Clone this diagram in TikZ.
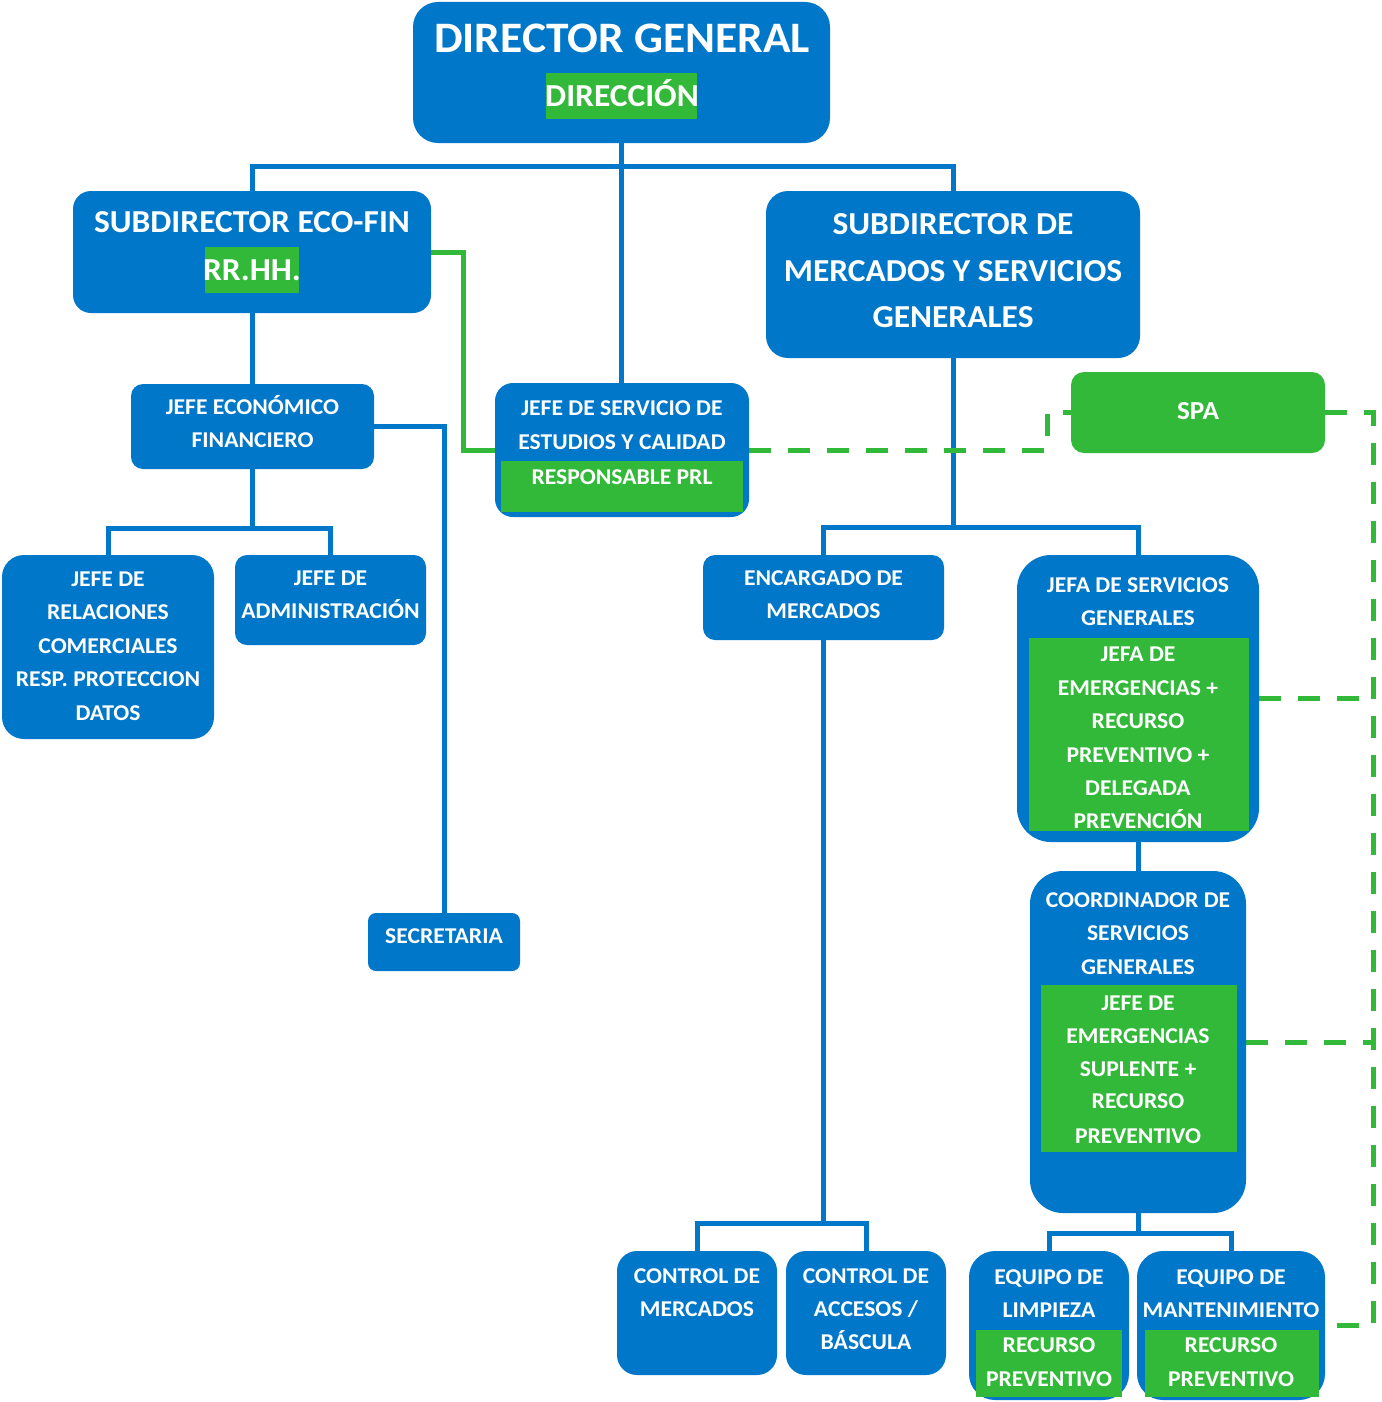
\documentclass[tikz,border=0pt]{standalone}
\usepackage{fontspec}
\setmainfont{Carlito}[FakeStretch=1.045]
\usetikzlibrary{backgrounds}
\definecolor{cblue}{RGB}{0,119,200}
\definecolor{cgreen}{RGB}{51,185,57}
\tikzset{
  box/.style={fill=cblue, inner sep=0pt, outer sep=0pt, rectangle},
  spabox/.style={fill=cgreen, inner sep=0pt, outer sep=0pt, rectangle},
  conn/.style={draw=cblue, line width=5pt},
  gline/.style={draw=cgreen, line width=5pt},
  gdash/.style={gline, dash pattern=on 22pt off 17pt},
  tx/.style={text=white, inner sep=0pt, anchor=base, font=\bfseries\fontsize{22.6}{27}\selectfont},
}
% small text line: name, x, center y, text
\newcommand\ts[4]{\node[tx] (#1) at (#2,{#3+7.3}) {#4};}
% medium text line
\newcommand\tm[4]{\node[tx, font=\bfseries\fontsize{32}{38}\selectfont] (#1) at (#2,{#3+10.3}) {#4};}
% box: name, x1, y1, x2, y2, radius, style
\newcommand\bx[7]{\node[#7, rounded corners=#6pt, minimum width={#4-#2}, minimum height={#5-#3}] (#1) at ({(#2+#4)/2},{(#3+#5)/2}) {};}
\begin{document}
\begin{tikzpicture}[x=1pt, y=-1pt]
\useasboundingbox (0,0) rectangle (1381,1402);

% ---------- boxes ----------
\bx{dg}{413}{2}{830}{143}{25}{box}
\bx{s1}{73}{191}{431}{313}{18}{box}
\bx{s2}{766}{191}{1140}{358}{22}{box}
\bx{jef}{131}{384}{374}{469}{12}{box}
\bx{jse}{495}{383}{749}{517}{18}{box}
\bx{spa}{1071}{372}{1325}{453}{13}{spabox}
\bx{jrc}{2}{555}{214}{739}{22}{box}
\bx{jad}{235}{555}{426}{645}{12}{box}
\bx{sec}{368}{913}{520}{971}{8}{box}
\bx{em}{703}{555}{944}{640}{12}{box}
\bx{jsg}{1017}{555}{1259}{842}{34}{box}
\bx{csg}{1030}{871}{1246}{1213}{33}{box}
\bx{cm}{617}{1251}{777}{1375}{20}{box}
\bx{ca}{786}{1251}{946}{1375}{20}{box}
\bx{el}{969}{1251}{1129}{1400}{26}{box}
\bx{emt}{1137}{1251}{1325}{1400}{26}{box}

\coordinate (h1) at (0,166);
\coordinate (h2) at (0,528);
\coordinate (h3) at (0,527);
\coordinate (h4) at (0,1223);
\coordinate (h5) at (0,1233);
\coordinate (rx) at (1373,0);

% ---------- green bands ----------
\fill[cgreen] (546,73) rectangle (697,119);
\fill[cgreen] (205,247) rectangle (299,293);
\fill[cgreen] (501,461) rectangle (743,512);
\fill[cgreen] (1029,638) rectangle (1249,831);
\fill[cgreen] (1041,985) rectangle (1237,1152);
\fill[cgreen] (976,1330) rectangle (1122,1397);
\fill[cgreen] (1145,1330) rectangle (1319,1397);

% ---------- texts ----------
\node[tx, font=\bfseries\fontsize{43.5}{50}\selectfont] (dg1) at (622,53) {DIRECTOR GENERAL};
\node[tx, font=\bfseries\fontsize{32}{38}\selectfont] (dg2) at (622,106.3) {DIRECCIÓN};

\tm{s1a}{252}{222}{SUBDIRECTOR ECO-FIN}
\tm{s1b}{252}{270}{RR.HH.}

\tm{s2a}{953}{224}{SUBDIRECTOR DE}
\tm{s2b}{953}{271}{MERCADOS Y SERVICIOS}
\tm{s2c}{953}{317}{GENERALES}

\ts{jefa}{252.5}{407}{JEFE ECONÓMICO}
\ts{jefb}{252.5}{440.5}{FINANCIERO}

\ts{jsea}{622}{408}{JEFE DE SERVICIO DE}
\ts{jseb}{622}{442}{ESTUDIOS Y CALIDAD}
\ts{jsec}{622}{477}{RESPONSABLE PRL}

\node[tx, font=\bfseries\fontsize{26}{30}\selectfont] (spat) at (1198,419.4) {SPA};

\ts{jrca}{108}{579.5}{JEFE DE}
\ts{jrcb}{108}{612.5}{RELACIONES}
\ts{jrcc}{108}{646}{COMERCIALES}
\ts{jrcd}{108}{679.5}{RESP. PROTECCION}
\ts{jrce}{108}{713}{DATOS}

\ts{jada}{330.5}{578}{JEFE DE}
\ts{jadb}{330.5}{611.5}{ADMINISTRACIÓN}

\ts{sect}{444}{936}{SECRETARIA}

\ts{ema}{823.5}{578}{ENCARGADO DE}
\ts{emb}{823.5}{611}{MERCADOS}

\ts{jsga}{1138}{585}{JEFA DE SERVICIOS}
\ts{jsgb}{1138}{618.3}{GENERALES}
\ts{jsgc}{1138}{654}{JEFA DE}
\ts{jsgd}{1138}{688}{EMERGENCIAS +}
\ts{jsge}{1138}{721}{RECURSO}
\ts{jsgf}{1138}{755}{PREVENTIVO +}
\ts{jsgg}{1138}{788}{DELEGADA}
\ts{jsgh}{1138}{821}{PREVENCIÓN}

\ts{csga}{1138}{900}{COORDINADOR DE}
\ts{csgb}{1138}{933.3}{SERVICIOS}
\ts{csgc}{1138}{966.7}{GENERALES}
\ts{csgd}{1138}{1003.3}{JEFE DE}
\ts{csge}{1138}{1036}{EMERGENCIAS}
\ts{csgf}{1138}{1069}{SUPLENTE +}
\ts{csgg}{1138}{1101.3}{RECURSO}
\ts{csgh}{1138}{1135.8}{PREVENTIVO}

\ts{cma}{697}{1276}{CONTROL DE}
\ts{cmb}{697}{1309}{MERCADOS}

\ts{caa}{866}{1276}{CONTROL DE}
\ts{cab}{866}{1309}{ACCESOS /}
\ts{cac}{866}{1342.5}{BÁSCULA}

\ts{ela}{1049}{1277}{EQUIPO DE}
\ts{elb}{1049}{1310.3}{LIMPIEZA}
\ts{elc}{1049}{1345.5}{RECURSO}
\ts{eld}{1049}{1379}{PREVENTIVO}

\ts{emta}{1231}{1277}{EQUIPO DE}
\ts{emtb}{1231}{1310.3}{MANTENIMIENTO}
\ts{emtc}{1231}{1345.5}{RECURSO}
\ts{emtd}{1231}{1379}{PREVENTIVO}

% ---------- connectors (behind boxes) ----------
\begin{pgfonlayer}{background}
\fill[white] (0,0) rectangle (1381,1402);
\draw[conn] (dg.south) -- (dg.south |- jse.north);
\draw[conn] (s1.north) -- (s1.north |- h1) -- (s2.north |- h1) -- (s2.north);
\draw[conn] (s1.south) -- (s1.south |- jef.north);
\draw[conn] (jef.south) -- (jef.south |- h2);
\draw[conn] (jrc.north) -- (jrc.north |- h2) -- (jad.north |- h2) -- (jad.north);
\draw[conn] (jef.east) -| (sec.north);
\draw[conn] (s2.south) -- (s2.south |- h3);
\draw[conn] (em.north) -- (em.north |- h3) -- (jsg.north |- h3) -- (jsg.north);
\draw[conn] (em.south) -- (em.south |- h4);
\draw[conn] (cm.north) -- (cm.north |- h4) -- (ca.north |- h4) -- (ca.north);
\draw[conn] (jsg.south) -- (csg.north);
\draw[conn] (csg.south) -- (csg.south |- h5);
\draw[conn] (el.north) -- (el.north |- h5) -- (emt.north |- h5) -- (emt.north);
\draw[gline] (s1.east) -- ++(32,0) |- (jse.west);
\draw[gdash] (jse.east) -- ++(298,0) |- (spa.west);
\draw[gdash] (spa.east) -- (spa.east -| rx) |- (emt.east);
\draw[gdash] (jsg.east) -- (jsg.east -| rx);
\draw[gdash] (csg.east) -- (csg.east -| rx);
\end{pgfonlayer}
\end{tikzpicture}
\end{document}
